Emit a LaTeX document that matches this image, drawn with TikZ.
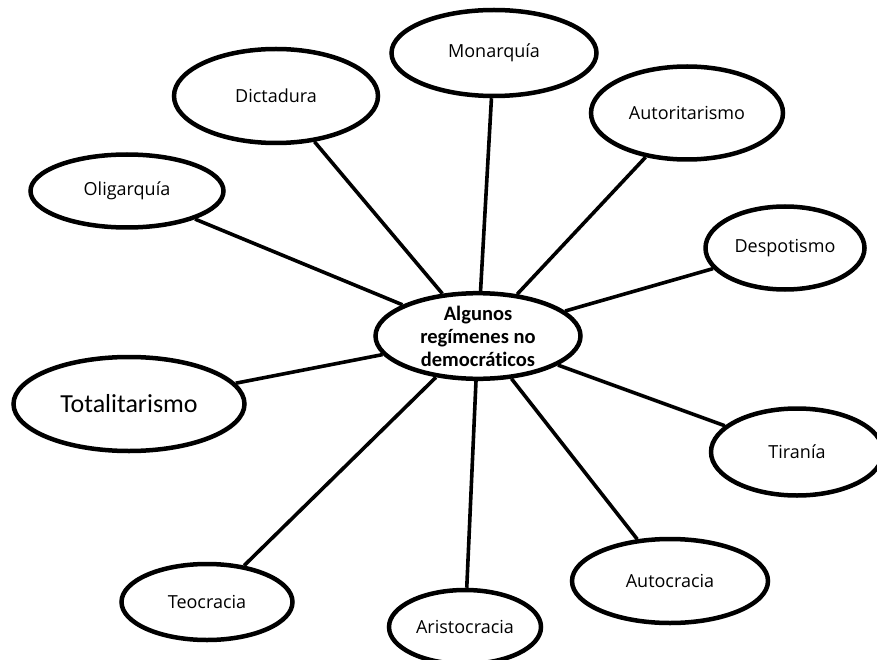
\documentclass[tikz,border=0pt]{standalone}
\usepackage{fontspec}
\setmainfont{Open Sans}
\newfontfamily\calibri[Ligatures=NoCommon]{Carlito}
\usetikzlibrary{shapes.geometric}

\begin{document}
\begin{tikzpicture}
[-,x=1pt,y=-1pt,%
  every node/.style={shape=ellipse,inner sep=0pt,draw,line width=4.5pt,fill=white,%
    font=\fontsize{18}{21}\selectfont},%
  tema/.style={font=\calibri\bfseries\fontsize{20.5}{23}\selectfont,align=center},%
  grande/.style={font=\calibri\fontsize{26}{30}\selectfont}]
\useasboundingbox (0,0) rectangle (877,660);
\node[tema,minimum width=205pt,minimum height=84pt] (centro) at (478,336)
  {Algunos\\regímenes no\\democráticos};
\node[minimum width=205pt,minimum height=86pt] (mon) at (494,53) {Monarquía};
\node[minimum width=204pt,minimum height=94pt] (dict) at (276,96) {Dictadura};
\node[minimum width=192pt,minimum height=93pt] (autor) at (687,113) {Autoritarismo};
\node[minimum width=193pt,minimum height=73pt] (olig) at (127,191) {Oligarquía};
\node[minimum width=159pt,minimum height=83pt] (desp) at (785,248) {Despotismo};
\node[grande,minimum width=231pt,minimum height=94pt] (tota) at (129,404) {Totalitarismo};
\node[minimum width=172pt,minimum height=87pt] (tira) at (797,452) {Tiranía};
\node[minimum width=171pt,minimum height=76pt] (teo) at (207,602) {Teocracia};
\node[minimum width=152pt,minimum height=74pt] (aris) at (465,627) {Aristocracia};
\node[minimum width=196pt,minimum height=84pt] (autoc) at (670,581) {Autocracia};
\path[line width=3.6pt]
(centro) edge (mon)
(centro) edge (dict)
(centro) edge (autor)
(centro) edge (olig)
(centro) edge (desp)
(centro) edge (tota)
(centro) edge (tira)
(centro) edge (teo)
(centro) edge (aris)
(centro) edge (autoc);
\end{tikzpicture}
\end{document}
